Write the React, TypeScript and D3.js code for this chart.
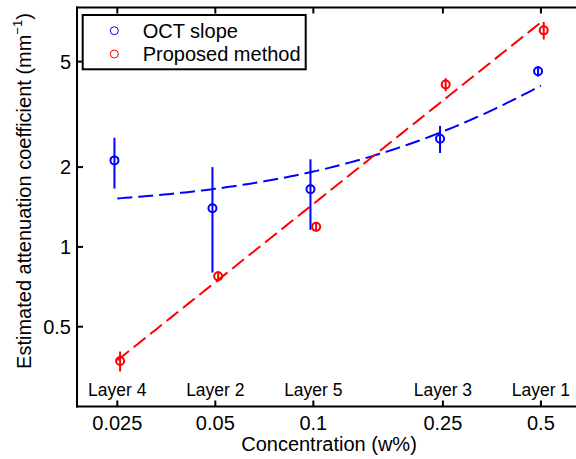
import * as d3 from 'd3'
import React from 'react'

// concentrations (w%) and layer names
const concTicks = [0.025, 0.05, 0.1, 0.25, 0.5]
const layerLabels = ['Layer 4', 'Layer 2', 'Layer 5', 'Layer 3', 'Layer 1']
const yTicks = [0.5, 1, 2, 5]

// OCT slope (blue), markers drawn just left of the tick
const octConc = [0.0245, 0.049, 0.098, 0.245, 0.49]
const octMean = [2.12, 1.4, 1.65, 2.56, 4.6]
const octErr = [0.46, 0.6, 0.49, 0.3, 0.21]

// Proposed method (red), markers drawn just right of the tick
const propConc = [0.0255, 0.051, 0.102, 0.255, 0.51]
const propMean = [0.371, 0.775, 1.19, 4.1, 6.56]
const propErr = [0.032, 0.035, 0.045, 0.23, 0.5]

// fitted curves: OCT linear (a + b x), proposed power law (A x^B)
const octFit = { a: 1.39, b: 5.34 }
const propFit = { A: 13.87, B: 0.98 }

const W = 576
const H = 459
const font = 'Liberation Sans, Arial, Helvetica, sans-serif'

export default function App() {
  const x = d3.scaleLog().domain([0.0188, 0.68]).range([77, 584.4])
  const y = d3.scaleLog().domain([0.25, 8]).range([406.5, 7.5])
  const left = x.range()[0]
  const right = x.range()[1]
  const top = y.range()[1]
  const bottom = y.range()[0]

  const fitX = d3.range(0, 101).map(i => 0.025 * Math.pow(20, i / 100))
  const line = d3.line<number[]>().x(d => x(d[0])).y(d => y(d[1]))
  const octPath = line(fitX.map(c => [c, octFit.a + octFit.b * c]))
  const propPath = line(fitX.map(c => [c, propFit.A * Math.pow(c, propFit.B)]))

  const series = [
    { conc: octConc, mean: octMean, err: octErr, color: '#0000ff' },
    { conc: propConc, mean: propMean, err: propErr, color: '#ff0000' },
  ]

  return (
    <svg width={W} height={H} style={{ position: 'absolute', left: 0, top: 0, background: '#fff' }} fontFamily={font}>
      {/* fits */}
      <path d={octPath || ''} fill="none" stroke="#0000ff" strokeWidth={2} strokeDasharray="15 6" />
      <path d={propPath || ''} fill="none" stroke="#ff0000" strokeWidth={2} strokeDasharray="15 6" />

      {/* error bars + markers */}
      {series.map((s, si) => (
        <g key={si} stroke={s.color} strokeWidth={2} fill="none">
          {s.conc.map((c, i) => (
            <g key={i}>
              <line x1={x(c)} x2={x(c)} y1={y(s.mean[i] - s.err[i])} y2={y(s.mean[i] + s.err[i])} />
              <circle cx={x(c)} cy={y(s.mean[i])} r={4} />
            </g>
          ))}
        </g>
      ))}

      {/* axes frame (no right edge visible) */}
      <g stroke="#000" strokeWidth={2} fill="none">
        <line x1={left} x2={left} y1={top - 1} y2={bottom + 1} />
        <line x1={left - 1} x2={right} y1={top} y2={top} />
        <line x1={left - 1} x2={right} y1={bottom} y2={bottom} />
        {concTicks.map(c => (
          <g key={c}>
            <line x1={x(c)} x2={x(c)} y1={bottom} y2={bottom - 6} />
            <line x1={x(c)} x2={x(c)} y1={top} y2={top + 6} />
          </g>
        ))}
        {yTicks.map(v => (
          <line key={v} x1={left} x2={left + 6} y1={y(v)} y2={y(v)} />
        ))}
      </g>

      {/* tick labels */}
      {concTicks.map((c, i) => (
        <g key={c}>
          <text x={x(c)} y={430} textAnchor="middle" fontSize={20}>{c}</text>
          <text x={x(c)} y={396} textAnchor="middle" fontSize={17.5}>{layerLabels[i]}</text>
        </g>
      ))}
      {yTicks.map(v => (
        <text key={v} x={left - 6} y={y(v) + 7} textAnchor="end" fontSize={20}>{v}</text>
      ))}

      {/* axis titles */}
      <text x={329} y={451} textAnchor="middle" fontSize={20}>Concentration (w%)</text>
      <text transform="translate(31,191) rotate(-90)" textAnchor="middle" fontSize={20}>
        Estimated attenuation coefficient (mm
        <tspan fontSize={13} dy={-9}>−1</tspan>
        <tspan dy={9}>)</tspan>
      </text>

      {/* legend */}
      <rect x={82.7} y={15} width={223} height={54.3} fill="#fff" stroke="#000" strokeWidth={2} />
      {[
        { label: 'OCT slope', color: '#0000ff', cy: 30.7 },
        { label: 'Proposed method', color: '#ff0000', cy: 54 },
      ].map(l => (
        <g key={l.label}>
          <circle cx={114.3} cy={l.cy} r={4} fill="none" stroke={l.color} strokeWidth={1} />
          <text x={142.7} y={l.cy + 7} fontSize={20}>{l.label}</text>
        </g>
      ))}
    </svg>
  )
}
